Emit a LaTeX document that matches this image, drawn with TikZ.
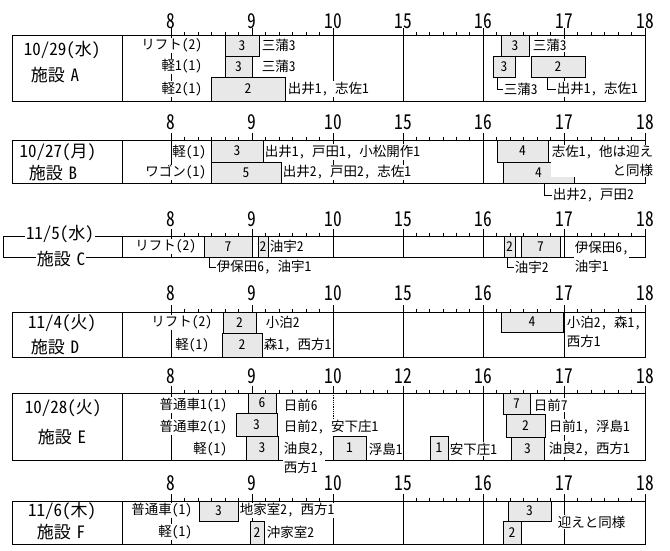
\documentclass[tikz,border=0pt]{standalone}
\usepackage{fontspec}
\setmainfont[RawFeature=+hwid]{Noto Sans CJK JP}
\newfontfamily\axfont[FakeStretch=0.85,RawFeature=+hwid]{Noto Sans CJK JP}
\tikzset{
 frm/.style={line width=1pt},
 grd/.style={line width=0.8pt},
 tck/.style={line width=0.8pt},
 bar/.style={draw, fill=black!9, line width=0.8pt, inner sep=0pt},
 txt/.style={fill=white, inner sep=0.6pt},
 axl/.style={font=\axfont\fontsize{20.5}{20}\selectfont, inner sep=0pt},
 ttl/.style={font=\fontsize{17}{20}\selectfont, inner sep=0.6pt},
}
\newcommand\gbox[6]{\node[bar, minimum width={#4-#2}, minimum height={#5-#3}] (#1) at ({(#2+#4)/2},{(#3+#5)/2}) {#6};}
\newcommand\pgrid[2]{\foreach \xx in {171,252,333,403,483,564}{\draw[grd] (\xx,#1) -- (\xx,#2);}}
\newcommand\paxis[4]{%
 \foreach \xx/\ll in {171/8,252/9,333/10,403/#4,483/16,564/17,645/18}{%
   \draw[tck] (\xx,#2-7) -- (\xx,#2);
   \node[axl] (#1-\ll) at (\xx,#3) {\ll};
 }%
 \foreach \xx in {184.5,198,211.5,225,238.5,265.5,279,292.5,306,319.5,416.3,429.7,443,456.3,469.7,496.5,510,523.5,537,550.5,577.5,591,604.5,618,631.5}{%
   \draw[tck] (\xx,#2-3.5) -- (\xx,#2);
 }%
}
\begin{document}
\begin{tikzpicture}[x=1pt,y=-1pt, every node/.append style={font=\fontsize{13.5}{19}\selectfont}]
\useasboundingbox (0,0) rectangle (670,550);
\fill[white] (0,0) rectangle (670,550);

% ---------------- Panel A
\draw[frm] (12,35) rectangle (645,101);
\draw[frm] (122,35) -- (122,101);
\pgrid{35}{101}
\paxis{A}{35}{21}{15}
\node[ttl] (aD) at (62,50) {10/29(水)};
\node[ttl] (aF) at (55,75) {施設\hspace{0.35em}A};
\gbox{a1}{225}{35}{259}{56}{3}
\gbox{a2}{225}{56}{252}{77}{3}
\gbox{a3}{211}{77}{285}{101}{2}
\gbox{a4}{501}{35}{529}{56}{3}
\gbox{a5}{493}{56}{515}{77}{3}
\gbox{a6}{531}{56}{585}{77}{2}
\node[txt, anchor=east] (aL1) at (203,45.5) {リフト(2)};
\node[txt, anchor=east] (aL2) at (203,66.5) {軽1(1)};
\node[txt, anchor=east] (aL3) at (203,89) {軽2(1)};
\node[txt, anchor=west] (aT1) at (261,45.5) {三蒲3};
\node[txt, anchor=west] (aT2) at (261,66.5) {三蒲3};
\node[txt, anchor=west] (aT3) at (287,89) {出井1, 志佐1};
\node[txt, anchor=west] (aT4) at (532,45.5) {三蒲3};
\node[txt, anchor=west] (aT5) at (503,89) {三蒲3};
\node[txt, anchor=west] (aT6) at (556,89) {出井1, 志佐1};
\draw[grd] ([xshift=5pt]a5.south west) |- (aT5.west);
\draw[grd] ([xshift=17pt]a6.south west) |- (aT6.west);

% ---------------- Panel B
\draw[frm] (12,140) rectangle (645,183);
\draw[frm] (122,140) -- (122,183);
\pgrid{140}{183}
\paxis{B}{140}{122.5}{15}
\node[ttl] (bD) at (58,152) {10/27(月)};
\node[ttl] (bF) at (53,173) {施設\hspace{0.35em}B};
\gbox{b1}{211}{140}{263}{162}{3}
\gbox{b2}{211}{162}{281}{183}{5}
\gbox{b3}{497}{140}{548}{162}{4}
\gbox{b4}{503}{162}{574}{183}{4}
\node[txt, anchor=east] (bL1) at (207,152) {軽(1)};
\node[txt, anchor=east] (bL2) at (207,172.5) {ワゴン(1)};
\node[txt, anchor=west] (bT1) at (264,152) {出井1, 戸田1, 小松開作1};
\node[txt, anchor=west] (bT2) at (282,172.5) {出井2, 戸田2, 志佐1};
\node[txt, anchor=north east, align=right] (bT3) at (654,144.5) {志佐1, 他は迎え\\と同様};
\node[txt, anchor=west] (bT4) at (552,195) {出井2, 戸田2};
\draw[grd] ([xshift=42pt]b4.south west) |- (bT4.west);

% ---------------- Panel C
\draw[frm] (3,236) rectangle (645,257);
\draw[frm] (122,236) -- (122,257);
\pgrid{236}{257}
\paxis{C}{236}{219.5}{15}
\node[ttl, fill=white] (cD) at (60,234) {11/5(水)};
\node[ttl, fill=white] (cF) at (61,259) {施設\hspace{0.35em}C};
\gbox{c1}{204}{236}{252}{257}{7}
\gbox{c2}{258}{236}{268}{257}{2}
\gbox{c3}{504}{236}{515}{257}{2}
\gbox{c4}{521}{236}{560}{257}{7}
\node[txt, anchor=east] (cL1) at (197,246.5) {リフト(2)};
\node[txt, anchor=west] (cT1) at (269,246.5) {油宇2};
\node[txt, anchor=west] (cT2) at (216,267) {伊保田6, 油宇1};
\node[txt, anchor=north west, align=left] (cT3) at (574,240) {伊保田6,\\油宇1};
\node[txt, anchor=west] (cT4) at (514,267) {油宇2};
\draw[grd] ([xshift=6pt]c1.south west) |- (cT2.west);
\draw[grd] ([xshift=4pt]c3.south west) |- (cT4.west);

% ---------------- Panel D
\draw[frm] (12,312) rectangle (645,357);
\draw[frm] (122,312) -- (122,357);
\pgrid{312}{357}
\paxis{D}{312}{293}{15}
\node[ttl] (dD) at (62,323) {11/4(火)};
\node[ttl] (dF) at (55,347) {施設\hspace{0.35em}D};
\gbox{d1}{223}{312}{256}{333}{2}
\gbox{d2}{222}{333}{262}{357}{2}
\gbox{d3}{501}{312}{563}{332}{4}
\node[txt, anchor=east] (dL1) at (213,322.5) {リフト(2)};
\node[txt, anchor=east] (dL2) at (210,345) {軽(1)};
\node[txt, anchor=west] (dT1) at (265,322.5) {小泊2};
\node[txt, anchor=west] (dT2) at (263,345) {森1, 西方1};
\node[txt, anchor=north west, align=left] (dT3) at (566,315.7) {小泊2, 森1,\\西方1};

% ---------------- Panel E
\draw[frm] (12,393) rectangle (645,460);
\draw[frm] (122,393) -- (122,460);
\foreach \xx in {171,252,403,483,564}{\draw[grd] (\xx,393) -- (\xx,460);}
\draw[grd, densely dotted] (333,393) -- (333,460);
\paxis{E}{393}{376}{12}
\foreach \xx in {346.5,360,373.5,387}{\draw[tck] (\xx,389.5) -- (\xx,393);}
\node[ttl] (eD) at (63,408) {10/28(火)};
\node[ttl] (eF) at (62,437) {施設\hspace{0.35em}E};
\gbox{e1}{248}{393}{276}{413}{6}
\gbox{e2}{236}{413}{277}{436}{3}
\gbox{e3}{246}{436}{278}{460}{3}
\gbox{e4}{333}{436}{366}{460}{1}
\gbox{e5}{430}{436}{448}{460}{1}
\gbox{e6}{503}{393}{530}{414}{7}
\gbox{e7}{506}{414}{545}{437}{2}
\gbox{e8}{511}{437}{544}{460}{3}
\node[txt, anchor=east] (eL1) at (228,405) {普通車1(1)};
\node[txt, anchor=east] (eL2) at (228,427) {普通車2(1)};
\node[txt, anchor=east] (eL3) at (228,449) {軽(1)};
\node[txt, anchor=west] (eT1) at (283,405) {日前6};
\node[txt, anchor=west] (eT2) at (283,427) {日前2, 安下庄1};
\node[txt, anchor=north west, align=left] (eT3) at (283,441.7) {油良2,\\西方1};
\node[txt, anchor=west] (eT4) at (368,449) {浮島1};
\node[txt, anchor=west] (eT5) at (449,449) {安下庄1};
\node[txt, anchor=west] (eT6) at (533,405) {日前7};
\node[txt, anchor=west] (eT7) at (548,427) {日前1, 浮島1};
\node[txt, anchor=west] (eT8) at (548,449) {油良2, 西方1};

% ---------------- Panel F
\draw[frm] (12,501) rectangle (645,544);
\draw[frm] (122,501) -- (122,544);
\pgrid{501}{544}
\paxis{F}{501}{483}{15}
\node[ttl] (fD) at (62,511) {11/6(木)};
\node[ttl] (fF) at (61,532) {施設\hspace{0.35em}F};
\gbox{f1}{199}{501}{238}{521}{3}
\gbox{f2}{250}{521}{264}{544}{2}
\gbox{f3}{508}{501}{551}{521}{3}
\gbox{f4}{503}{521}{521}{544}{2}
\node[txt, anchor=east] (fL1) at (193,510.5) {普通車(1)};
\node[txt, anchor=east] (fL2) at (193,532) {軽(1)};
\node[txt, anchor=west] (fT1) at (239,510.5) {地家室2, 西方1};
\node[txt, anchor=west] (fT2) at (266,532) {沖家室2};
\node[txt, anchor=west] (fT3) at (557,522) {迎えと同様};
\end{tikzpicture}
\end{document}
